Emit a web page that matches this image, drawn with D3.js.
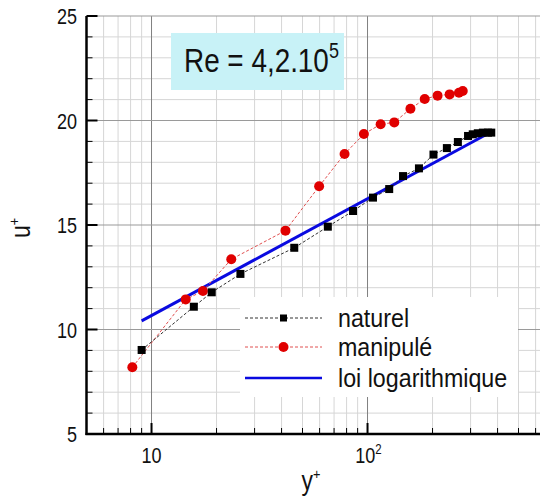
<!DOCTYPE html>
<html><head><meta charset="utf-8">
<script src="https://cdn.jsdelivr.net/npm/d3@7/dist/d3.min.js"></script>
<style>body{margin:0;background:#fff}svg{display:block;font-family:"Liberation Sans",Arial,sans-serif}</style>
</head><body><svg id="c" width="540" height="502"></svg>
<script>
// ---- data ----
const naturelX = [9.0, 15.7, 19.0, 25.8, 45.8, 65.5, 85.7, 106, 126, 146, 173, 202, 233, 262, 292, 307, 324, 342, 361, 374];
const naturelU = [9.02, 11.09, 11.78, 12.66, 13.91, 14.92, 15.67, 16.31, 16.72, 17.34, 17.71, 18.37, 18.68, 18.97, 19.26, 19.34, 19.39, 19.42, 19.42, 19.42];
const manipX = [8.15, 14.4, 17.3, 23.4, 41.7, 59.7, 78.3, 96.2, 115, 133, 158, 184, 211, 240, 265, 276];
const manipU = [8.19, 11.44, 11.84, 13.36, 14.73, 16.85, 18.40, 19.35, 19.82, 19.91, 20.56, 21.03, 21.19, 21.25, 21.33, 21.41];
const logLawX = [9.0, 380];
const logLawU = [10.41, 19.5];
const yMajorTicks = [5, 10, 15, 20, 25];
const xMajorTicks = [10, 100];
const xTickLabels = [["10", ""], ["10", "2"]];
const seriesNames = ["naturel", "manipulé", "loi logarithmique"];
const titleText = ["Re = 4,2.10", "5"];

const svg = d3.select("#c");
const L = 86.5, T = 16, B = 434, R = 540;
const x = d3.scaleLog().domain([5, 1000]).range([L, L + 216 * Math.log10(200)]);
const y = d3.scaleLinear().domain([5, 25]).range([B, T]);

svg.append("clipPath").attr("id", "pc").append("rect")
  .attr("x", L).attr("y", T - 1).attr("width", R - L).attr("height", B - T + 2);
const plot = svg.append("g").attr("clip-path", "url(#pc)");

// grid
const xMinor = x.ticks().filter(v => !xMajorTicks.includes(v));
const yMinor = d3.range(5, 25.5, 1).filter(v => !yMajorTicks.includes(v));
plot.selectAll(".gxm").data(xMinor).join("line")
  .attr("x1", d => x(d)).attr("x2", d => x(d)).attr("y1", T).attr("y2", B)
  .attr("stroke", "#d6d6d6").attr("stroke-width", 1);
plot.selectAll(".gym").data(yMinor).join("line")
  .attr("x1", L).attr("x2", R).attr("y1", d => y(d)).attr("y2", d => y(d))
  .attr("stroke", "#d6d6d6").attr("stroke-width", 1);
plot.selectAll(".gxM").data(xMajorTicks).join("line")
  .attr("x1", d => x(d)).attr("x2", d => x(d)).attr("y1", T).attr("y2", B)
  .attr("stroke", "#808080").attr("stroke-width", 1);
plot.selectAll(".gyM").data(yMajorTicks).join("line")
  .attr("x1", L).attr("x2", R).attr("y1", d => y(d)).attr("y2", d => y(d))
  .attr("stroke", "#9a9a9a").attr("stroke-width", 1.2);

// title box
svg.append("rect").attr("x", 171).attr("y", 33).attr("width", 173).attr("height", 57).attr("fill", "#c8f2f7");
const tt = svg.append("text").attr("transform", "translate(184,72) scale(0.82,1)")
  .attr("font-size", 34).attr("fill", "#111");
tt.append("tspan").text(titleText[0]);
tt.append("tspan").attr("font-size", 22).attr("dy", -14).text(titleText[1]);

// log law line
const lineGen = d3.line().x(d => x(d[0])).y(d => y(d[1]));
plot.append("path").datum(d3.zip(logLawX, logLawU)).attr("d", lineGen)
  .attr("fill", "none").attr("stroke", "#0a0ae0").attr("stroke-width", 3);

// manipulé
const mData = d3.zip(manipX, manipU);
plot.append("path").datum(mData).attr("d", lineGen).attr("fill", "none")
  .attr("stroke", "#e05050").attr("stroke-width", 1).attr("stroke-dasharray", "3,2");
plot.selectAll(".mp").data(mData).join("circle")
  .attr("cx", d => x(d[0])).attr("cy", d => y(d[1])).attr("r", 5).attr("fill", "#e00000");

// naturel
const nData = d3.zip(naturelX, naturelU);
plot.append("path").datum(nData).attr("d", lineGen).attr("fill", "none")
  .attr("stroke", "#333").attr("stroke-width", 1).attr("stroke-dasharray", "3,2");
plot.selectAll(".np").data(nData).join("rect")
  .attr("x", d => x(d[0]) - 4).attr("y", d => y(d[1]) - 4).attr("width", 8).attr("height", 8).attr("fill", "#000");

// legend
svg.append("rect").attr("x", 240).attr("y", 297).attr("width", 278).attr("height", 100).attr("fill", "#fff");
const legY = [318, 347, 378];
const lg = svg.append("g");
lg.append("line").attr("x1", 245).attr("x2", 322).attr("y1", legY[0]).attr("y2", legY[0])
  .attr("stroke", "#333").attr("stroke-dasharray", "3,2");
lg.append("rect").attr("x", 280).attr("y", legY[0] - 3.5).attr("width", 7).attr("height", 7).attr("fill", "#000");
lg.append("line").attr("x1", 245).attr("x2", 322).attr("y1", legY[1]).attr("y2", legY[1])
  .attr("stroke", "#e05050").attr("stroke-dasharray", "3,2");
lg.append("circle").attr("cx", 283.5).attr("cy", legY[1]).attr("r", 5).attr("fill", "#e00000");
lg.append("line").attr("x1", 245).attr("x2", 322).attr("y1", legY[2]).attr("y2", legY[2])
  .attr("stroke", "#0a0ae0").attr("stroke-width", 2.5);
seriesNames.forEach((s, i) => {
  lg.append("text").attr("transform", `translate(338,${legY[i] + 9}) scale(0.93,1)`)
    .attr("font-size", 25).attr("fill", "#111").text(s);
});

// axes
svg.append("line").attr("x1", L).attr("x2", L).attr("y1", T).attr("y2", B + 1).attr("stroke", "#000").attr("stroke-width", 2.5);
svg.append("line").attr("x1", L - 1).attr("x2", R).attr("y1", B).attr("y2", B).attr("stroke", "#000").attr("stroke-width", 2.5);
// y ticks
svg.selectAll(".ytM").data(yMajorTicks).join("line")
  .attr("x1", L).attr("x2", L + 11).attr("y1", d => y(d)).attr("y2", d => y(d)).attr("stroke", "#000").attr("stroke-width", 2);
svg.selectAll(".ytm").data(yMinor).join("line")
  .attr("x1", L).attr("x2", L + 6).attr("y1", d => y(d)).attr("y2", d => y(d)).attr("stroke", "#000").attr("stroke-width", 1);
// x ticks
svg.selectAll(".xtM").data(xMajorTicks).join("line")
  .attr("x1", d => x(d)).attr("x2", d => x(d)).attr("y1", B).attr("y2", B - 11).attr("stroke", "#000").attr("stroke-width", 2);
svg.selectAll(".xtm").data(xMinor.filter(v => x(v) > L + 2 && x(v) < R)).join("line")
  .attr("x1", d => x(d)).attr("x2", d => x(d)).attr("y1", B).attr("y2", B - 6).attr("stroke", "#000").attr("stroke-width", 1);

// tick labels
yMajorTicks.forEach(v => {
  svg.append("text").attr("transform", `translate(77,${y(v) + 8}) scale(0.82,1)`)
    .attr("text-anchor", "end").attr("font-size", 22).attr("fill", "#111").text(v);
});
xMajorTicks.forEach((v, i) => {
  const t = svg.append("text").attr("transform", `translate(${x(v) + (i ? 1 : 0)},463) scale(0.82,1)`)
    .attr("text-anchor", "middle").attr("font-size", 22).attr("fill", "#111");
  t.append("tspan").text(xTickLabels[i][0]);
  if (xTickLabels[i][1]) t.append("tspan").attr("font-size", 14).attr("dy", -9).text(xTickLabels[i][1]);
});

// axis titles
const xt = svg.append("text").attr("transform", "translate(311,490) scale(0.85,1)")
  .attr("text-anchor", "middle").attr("font-size", 27).attr("fill", "#111");
xt.append("tspan").text("y");
xt.append("tspan").attr("font-size", 15).attr("dy", -11).text("+");
const yt = svg.append("text").attr("transform", "translate(30,228) rotate(-90) scale(0.85,1)")
  .attr("text-anchor", "middle").attr("font-size", 27).attr("fill", "#111");
yt.append("tspan").text("u");
yt.append("tspan").attr("font-size", 15).attr("dy", -11).text("+");
</script></body></html>
